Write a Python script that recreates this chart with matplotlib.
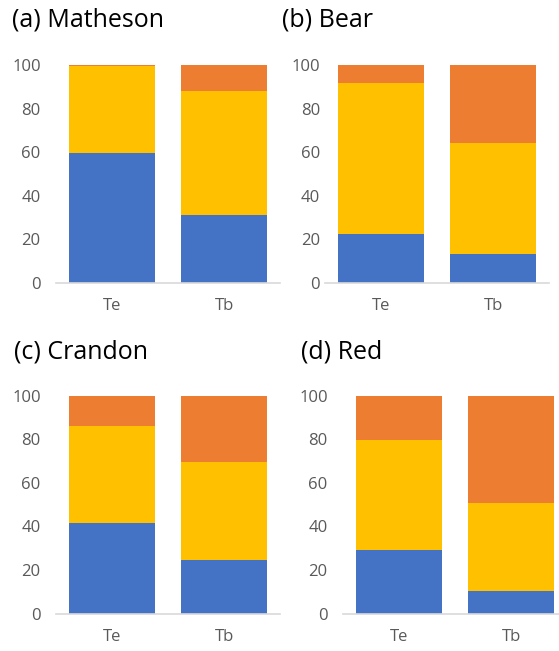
from matplotlib import pyplot as plt
import numpy as np

plt.rcParams['font.family'] = ['Open Sans', 'DejaVu Sans']

titles = ['(a) Matheson', '(b) Bear', '(c) Crandon', '(d) Red']
categories = ['Te', 'Tb']
# percentages per site: [Te, Tb]
blue = [[59.5, 31.2], [22.2, 13.2], [41.7, 24.6], [29.1, 10.6]]
yellow = [[40.2, 56.8], [69.4, 51.1], [44.2, 45.0], [50.6, 40.2]]
orange = [[0.3, 12.0], [8.4, 35.7], [14.1, 30.4], [20.3, 49.2]]

colors = ['#4472C4', '#FFC000', '#ED7D31']

W, H = 559, 651
fig = plt.figure(figsize=(W/100, H/100), dpi=100)

# axes boxes in pixels: left, bottom(y of zero), top(y of 100), label pad
boxes = [(56, 282.7, 65, 11), (325, 282.7, 65, 3.5),
         (56, 613.7, 395.7, 11), (343, 613.7, 395.7, 11)]
title_pos = [(12, 20), (282, 20), (14, 352), (301, 352)]

for i in range(4):
    l, b0, t0, pad = boxes[i]
    ax = fig.add_axes([l/W, 1-b0/H, 224/W, (b0-t0)/H])
    x = np.arange(2)
    bot = np.zeros(2)
    for vals, c in zip([blue[i], yellow[i], orange[i]], colors):
        v = np.array(vals)
        ax.bar(x, v, bottom=bot, width=0.77, color=c, edgecolor='none')
        bot = bot + v
    ax.set_xlim(-0.5, 1.5)
    ax.set_ylim(0, 100)
    ax.set_yticks(range(0, 101, 20))
    ax.set_xticks(x)
    ax.set_xticklabels(categories)
    for s in ['top', 'right', 'left']:
        ax.spines[s].set_visible(False)
    ax.spines['bottom'].set_color('#D9D9D9')
    ax.spines['bottom'].set_linewidth(1.2)
    ax.tick_params(axis='y', length=0, pad=pad, labelsize=12, labelcolor='#595959')
    ax.tick_params(axis='x', length=0, pad=11, labelsize=12, labelcolor='#595959')
    ax.set_facecolor('none')
    tx, ty = title_pos[i]
    fig.text(tx/W, 1-ty/H, titles[i], fontsize=18, va='center', ha='left', color='black')

fig.savefig('out.png', dpi=100)
